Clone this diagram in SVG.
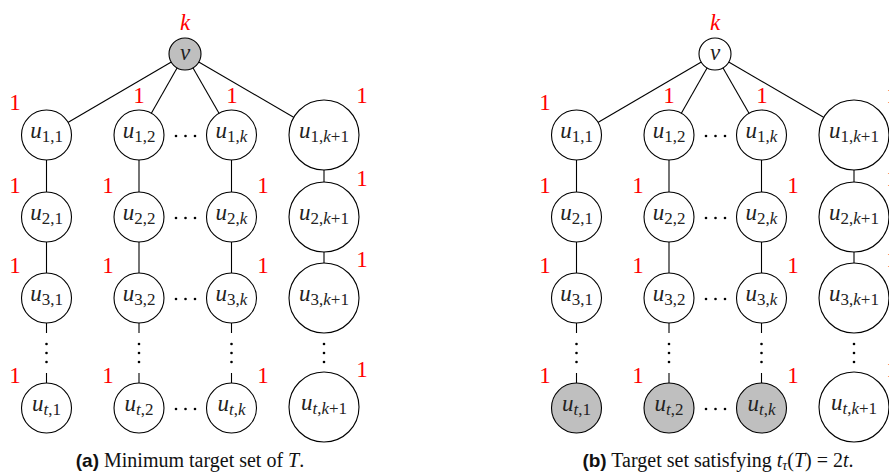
<svg xmlns="http://www.w3.org/2000/svg" width="889" height="472" viewBox="0 0 889 472">
<defs>
<style>
.n{fill:#fff;stroke:#000;stroke-width:1.1}
.g{fill:#bfbfbf}
.e{stroke:#000;stroke-width:1.1;fill:none}
.d{fill:#000}
.m{font-family:"Liberation Serif",serif;font-size:23px;text-anchor:middle;fill:#222}
.i{font-style:italic}
.s{font-size:17px}
.r{font-family:"Liberation Serif",serif;font-size:23px;text-anchor:middle;fill:#ff0000}
.c{font-family:"Liberation Serif",serif;font-size:20px;text-anchor:middle;fill:#111}
.b{font-family:"Liberation Sans",sans-serif;font-weight:bold;font-size:19px}
</style>
<circle id="dot" r="1.3" class="d"/>
</defs>

<!-- ================= Panel (a) ================= -->
<g id="edges-a">
<line class="e" x1="185" y1="54" x2="46.5" y2="135"/>
<line class="e" x1="185" y1="54" x2="139" y2="135"/>
<line class="e" x1="185" y1="54" x2="231.5" y2="135"/>
<line class="e" x1="185" y1="54" x2="324" y2="135"/>
<line class="e" x1="46.5" y1="135" x2="46.5" y2="333"/>
<line class="e" x1="46.5" y1="373" x2="46.5" y2="408"/>
<line class="e" x1="139" y1="135" x2="139" y2="333"/>
<line class="e" x1="139" y1="373" x2="139" y2="408"/>
<line class="e" x1="231.5" y1="135" x2="231.5" y2="333"/>
<line class="e" x1="231.5" y1="373" x2="231.5" y2="408"/>
<line class="e" x1="324" y1="135" x2="324" y2="298"/>
</g>

<g id="a-v"><circle class="n g" cx="185" cy="54" r="16"/><text class="m i" x="185" y="60">v</text></g>
<text class="r i" x="185" y="30">k</text>

<g id="a-u11"><circle class="n" cx="46.5" cy="135" r="25"/><text class="m" x="46.5" y="138"><tspan class="i">u</tspan><tspan class="s" dy="4">1,1</tspan></text></g>
<g id="a-u12"><circle class="n" cx="139" cy="135" r="25"/><text class="m" x="139" y="138"><tspan class="i">u</tspan><tspan class="s" dy="4">1,2</tspan></text></g>
<g id="a-u1k"><circle class="n" cx="231.5" cy="135" r="25"/><text class="m" x="231.5" y="138"><tspan class="i">u</tspan><tspan class="s" dy="4">1,<tspan class="i">k</tspan></tspan></text></g>
<g id="a-u1k1"><circle class="n" cx="324" cy="135" r="35"/><text class="m" x="324" y="138"><tspan class="i">u</tspan><tspan class="s" dy="4">1,<tspan class="i">k</tspan>+1</tspan></text></g>

<g id="a-u21"><circle class="n" cx="46.5" cy="217" r="25"/><text class="m" x="46.5" y="220"><tspan class="i">u</tspan><tspan class="s" dy="4">2,1</tspan></text></g>
<g id="a-u22"><circle class="n" cx="139" cy="217" r="25"/><text class="m" x="139" y="220"><tspan class="i">u</tspan><tspan class="s" dy="4">2,2</tspan></text></g>
<g id="a-u2k"><circle class="n" cx="231.5" cy="217" r="25"/><text class="m" x="231.5" y="220"><tspan class="i">u</tspan><tspan class="s" dy="4">2,<tspan class="i">k</tspan></tspan></text></g>
<g id="a-u2k1"><circle class="n" cx="324" cy="217" r="35"/><text class="m" x="324" y="220"><tspan class="i">u</tspan><tspan class="s" dy="4">2,<tspan class="i">k</tspan>+1</tspan></text></g>

<g id="a-u31"><circle class="n" cx="46.5" cy="298" r="25"/><text class="m" x="46.5" y="301"><tspan class="i">u</tspan><tspan class="s" dy="4">3,1</tspan></text></g>
<g id="a-u32"><circle class="n" cx="139" cy="298" r="25"/><text class="m" x="139" y="301"><tspan class="i">u</tspan><tspan class="s" dy="4">3,2</tspan></text></g>
<g id="a-u3k"><circle class="n" cx="231.5" cy="298" r="25"/><text class="m" x="231.5" y="301"><tspan class="i">u</tspan><tspan class="s" dy="4">3,<tspan class="i">k</tspan></tspan></text></g>
<g id="a-u3k1"><circle class="n" cx="324" cy="298" r="35"/><text class="m" x="324" y="301"><tspan class="i">u</tspan><tspan class="s" dy="4">3,<tspan class="i">k</tspan>+1</tspan></text></g>

<g id="a-ut1"><circle class="n" cx="46.5" cy="408" r="25"/><text class="m" x="46.5" y="411"><tspan class="i">u</tspan><tspan class="s" dy="4"><tspan class="i">t</tspan>,1</tspan></text></g>
<g id="a-ut2"><circle class="n" cx="139" cy="408" r="25"/><text class="m" x="139" y="411"><tspan class="i">u</tspan><tspan class="s" dy="4"><tspan class="i">t</tspan>,2</tspan></text></g>
<g id="a-utk"><circle class="n" cx="231.5" cy="408" r="25"/><text class="m" x="231.5" y="411"><tspan class="i">u</tspan><tspan class="s" dy="4"><tspan class="i">t</tspan>,<tspan class="i">k</tspan></tspan></text></g>
<g id="a-utk1"><circle class="n" cx="324" cy="407" r="35"/><text class="m" x="324" y="410"><tspan class="i">u</tspan><tspan class="s" dy="4"><tspan class="i">t</tspan>,<tspan class="i">k</tspan>+1</tspan></text></g>

<g id="a-dots">
<use href="#dot" x="176" y="136"/><use href="#dot" x="185.5" y="136"/><use href="#dot" x="195" y="136"/>
<use href="#dot" x="176" y="218"/><use href="#dot" x="185.5" y="218"/><use href="#dot" x="195" y="218"/>
<use href="#dot" x="176" y="299"/><use href="#dot" x="185.5" y="299"/><use href="#dot" x="195" y="299"/>
<use href="#dot" x="176" y="409"/><use href="#dot" x="185.5" y="409"/><use href="#dot" x="195" y="409"/>
<use href="#dot" x="46.5" y="344"/><use href="#dot" x="46.5" y="353"/><use href="#dot" x="46.5" y="362"/>
<use href="#dot" x="139" y="344"/><use href="#dot" x="139" y="353"/><use href="#dot" x="139" y="362"/>
<use href="#dot" x="231.5" y="344"/><use href="#dot" x="231.5" y="353"/><use href="#dot" x="231.5" y="362"/>
<use href="#dot" x="324" y="344"/><use href="#dot" x="324" y="353"/><use href="#dot" x="324" y="362"/>
</g>

<g id="a-weights">
<text class="r" x="15" y="110">1</text><text class="r" x="139" y="103">1</text><text class="r" x="232" y="103">1</text><text class="r" x="362" y="103">1</text>
<text class="r" x="15" y="193">1</text><text class="r" x="108" y="193">1</text><text class="r" x="263" y="193">1</text><text class="r" x="362" y="186">1</text>
<text class="r" x="15" y="273">1</text><text class="r" x="108" y="273">1</text><text class="r" x="263" y="273">1</text><text class="r" x="362" y="267">1</text>
<text class="r" x="15" y="383">1</text><text class="r" x="108" y="383">1</text><text class="r" x="263" y="383">1</text><text class="r" x="362" y="377">1</text>
</g>

<text class="c" x="190" y="467"><tspan class="b">(a)</tspan> Minimum target set of <tspan class="i">T</tspan>.</text>

<!-- ================= Panel (b) ================= -->
<g id="edges-b">
<line class="e" x1="715" y1="54" x2="576.5" y2="135"/>
<line class="e" x1="715" y1="54" x2="669" y2="135"/>
<line class="e" x1="715" y1="54" x2="761.5" y2="135"/>
<line class="e" x1="715" y1="54" x2="854" y2="135"/>
<line class="e" x1="576.5" y1="135" x2="576.5" y2="333"/>
<line class="e" x1="576.5" y1="373" x2="576.5" y2="408"/>
<line class="e" x1="669" y1="135" x2="669" y2="333"/>
<line class="e" x1="669" y1="373" x2="669" y2="408"/>
<line class="e" x1="761.5" y1="135" x2="761.5" y2="333"/>
<line class="e" x1="761.5" y1="373" x2="761.5" y2="408"/>
<line class="e" x1="854" y1="135" x2="854" y2="298"/>
</g>

<g id="b-v"><circle class="n" cx="715" cy="54" r="16"/><text class="m i" x="715" y="60">v</text></g>
<text class="r i" x="715" y="30">k</text>

<g id="b-u11"><circle class="n" cx="576.5" cy="135" r="25"/><text class="m" x="576.5" y="138"><tspan class="i">u</tspan><tspan class="s" dy="4">1,1</tspan></text></g>
<g id="b-u12"><circle class="n" cx="669" cy="135" r="25"/><text class="m" x="669" y="138"><tspan class="i">u</tspan><tspan class="s" dy="4">1,2</tspan></text></g>
<g id="b-u1k"><circle class="n" cx="761.5" cy="135" r="25"/><text class="m" x="761.5" y="138"><tspan class="i">u</tspan><tspan class="s" dy="4">1,<tspan class="i">k</tspan></tspan></text></g>
<g id="b-u1k1"><circle class="n" cx="854" cy="135" r="35"/><text class="m" x="854" y="138"><tspan class="i">u</tspan><tspan class="s" dy="4">1,<tspan class="i">k</tspan>+1</tspan></text></g>

<g id="b-u21"><circle class="n" cx="576.5" cy="217" r="25"/><text class="m" x="576.5" y="220"><tspan class="i">u</tspan><tspan class="s" dy="4">2,1</tspan></text></g>
<g id="b-u22"><circle class="n" cx="669" cy="217" r="25"/><text class="m" x="669" y="220"><tspan class="i">u</tspan><tspan class="s" dy="4">2,2</tspan></text></g>
<g id="b-u2k"><circle class="n" cx="761.5" cy="217" r="25"/><text class="m" x="761.5" y="220"><tspan class="i">u</tspan><tspan class="s" dy="4">2,<tspan class="i">k</tspan></tspan></text></g>
<g id="b-u2k1"><circle class="n" cx="854" cy="217" r="35"/><text class="m" x="854" y="220"><tspan class="i">u</tspan><tspan class="s" dy="4">2,<tspan class="i">k</tspan>+1</tspan></text></g>

<g id="b-u31"><circle class="n" cx="576.5" cy="298" r="25"/><text class="m" x="576.5" y="301"><tspan class="i">u</tspan><tspan class="s" dy="4">3,1</tspan></text></g>
<g id="b-u32"><circle class="n" cx="669" cy="298" r="25"/><text class="m" x="669" y="301"><tspan class="i">u</tspan><tspan class="s" dy="4">3,2</tspan></text></g>
<g id="b-u3k"><circle class="n" cx="761.5" cy="298" r="25"/><text class="m" x="761.5" y="301"><tspan class="i">u</tspan><tspan class="s" dy="4">3,<tspan class="i">k</tspan></tspan></text></g>
<g id="b-u3k1"><circle class="n" cx="854" cy="298" r="35"/><text class="m" x="854" y="301"><tspan class="i">u</tspan><tspan class="s" dy="4">3,<tspan class="i">k</tspan>+1</tspan></text></g>

<g id="b-ut1"><circle class="n g" cx="576.5" cy="408" r="25"/><text class="m" x="576.5" y="411"><tspan class="i">u</tspan><tspan class="s" dy="4"><tspan class="i">t</tspan>,1</tspan></text></g>
<g id="b-ut2"><circle class="n g" cx="669" cy="408" r="25"/><text class="m" x="669" y="411"><tspan class="i">u</tspan><tspan class="s" dy="4"><tspan class="i">t</tspan>,2</tspan></text></g>
<g id="b-utk"><circle class="n g" cx="761.5" cy="408" r="25"/><text class="m" x="761.5" y="411"><tspan class="i">u</tspan><tspan class="s" dy="4"><tspan class="i">t</tspan>,<tspan class="i">k</tspan></tspan></text></g>
<g id="b-utk1"><circle class="n" cx="854" cy="407" r="35"/><text class="m" x="854" y="410"><tspan class="i">u</tspan><tspan class="s" dy="4"><tspan class="i">t</tspan>,<tspan class="i">k</tspan>+1</tspan></text></g>

<g id="b-dots">
<use href="#dot" x="706" y="136"/><use href="#dot" x="715.5" y="136"/><use href="#dot" x="725" y="136"/>
<use href="#dot" x="706" y="218"/><use href="#dot" x="715.5" y="218"/><use href="#dot" x="725" y="218"/>
<use href="#dot" x="706" y="299"/><use href="#dot" x="715.5" y="299"/><use href="#dot" x="725" y="299"/>
<use href="#dot" x="706" y="409"/><use href="#dot" x="715.5" y="409"/><use href="#dot" x="725" y="409"/>
<use href="#dot" x="576.5" y="344"/><use href="#dot" x="576.5" y="353"/><use href="#dot" x="576.5" y="362"/>
<use href="#dot" x="669" y="344"/><use href="#dot" x="669" y="353"/><use href="#dot" x="669" y="362"/>
<use href="#dot" x="761.5" y="344"/><use href="#dot" x="761.5" y="353"/><use href="#dot" x="761.5" y="362"/>
<use href="#dot" x="854" y="344"/><use href="#dot" x="854" y="353"/><use href="#dot" x="854" y="362"/>
</g>

<g id="b-weights">
<text class="r" x="545" y="110">1</text><text class="r" x="669" y="103">1</text><text class="r" x="762" y="103">1</text><text class="r" x="892" y="103">1</text>
<text class="r" x="545" y="193">1</text><text class="r" x="638" y="193">1</text><text class="r" x="793" y="193">1</text><text class="r" x="892" y="186">1</text>
<text class="r" x="545" y="273">1</text><text class="r" x="638" y="273">1</text><text class="r" x="793" y="273">1</text><text class="r" x="892" y="267">1</text>
<text class="r" x="545" y="383">1</text><text class="r" x="638" y="383">1</text><text class="r" x="793" y="383">1</text><text class="r" x="892" y="377">1</text>
</g>

<text class="c" x="718" y="467"><tspan class="b">(b)</tspan> Target set satisfying <tspan class="i">t</tspan><tspan class="i" font-size="14" dy="3">τ</tspan><tspan dy="-3">(</tspan><tspan class="i">T</tspan>) = 2<tspan class="i">t</tspan>.</text>
</svg>
